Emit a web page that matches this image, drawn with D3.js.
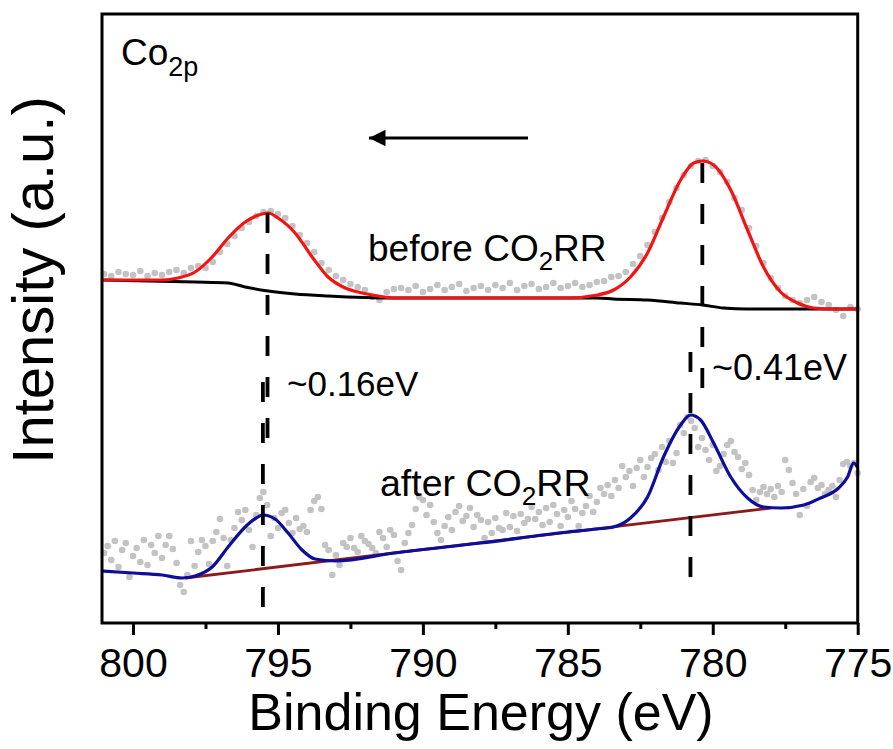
<!DOCTYPE html>
<html>
<head>
<meta charset="utf-8">
<script src="https://cdn.jsdelivr.net/npm/d3@7"></script>
<style>
  body { margin: 0; background: #fff; }
  svg { display: block; font-family: "Liberation Sans", Arial, Helvetica, sans-serif; }
</style>
</head>
<body>
<svg id="chart" width="893" height="749"></svg>
<script>
// ---- Axis ticks ----
const xTicks = [800, 795, 790, 785, 780, 775];
const xMinorTicks = [797.5, 792.5, 787.5, 782.5, 777.5];

// ---- Measured spectra (binding energy grid: start + step) ----
const beforeStart = 801.0, beforeStep = 0.25;
const beforeCounts = [
  349, 347, 351, 349, 348, 352, 347, 350, 348, 351, 353, 350, 355, 357, 355, 361,
  371, 379, 387, 395, 401, 407, 411, 412, 409, 405, 397, 388, 380, 371, 360, 353,
  347, 343, 339, 336, 333, 326, 323, 331, 334, 335, 333, 337, 331, 334, 338, 333,
  336, 339, 332, 335, 337, 333, 338, 335, 340, 333, 337, 339, 334, 336, 340, 335,
  337, 340, 336, 338, 341, 342, 346, 347, 351, 359, 367, 378, 391, 405, 421, 435,
  448, 457, 462, 463, 457, 451, 441, 425, 413, 395, 377, 360, 345, 335, 327, 323,
  320, 323, 326, 321, 318, 313, 307, 316, 314
];

const afterStart = 801.0, afterStep = 0.125;
const afterCounts = [
  70, 77, 63, 82, 56, 73, 80, 46, 67, 75, 61, 83, 58, 78, 70, 87,
  65, 78, 87, 74, 60, 38, 31, 48, 82, 57, 71, 83, 77, 59, 82, 91,
  104, 85, 57, 83, 95, 111, 103, 113, 93, 76, 108, 125, 131, 118, 87, 105,
  95, 110, 113, 100, 90, 105, 94, 97, 91, 113, 122, 126, 114, 78, 73, 48,
  68, 58, 80, 76, 85, 75, 71, 87, 82, 79, 75, 70, 91, 85, 76, 93,
  88, 62, 53, 80, 90, 98, 114, 126, 123, 108, 118, 101, 90, 83, 97, 106,
  93, 111, 117, 102, 107, 115, 96, 108, 103, 85, 101, 90, 105, 95, 93, 110,
  96, 107, 92, 109, 100, 104, 116, 104, 111, 98, 115, 101, 118, 109, 97, 113,
  106, 122, 114, 97, 110, 117, 127, 111, 121, 135, 129, 138, 127, 143, 135, 157,
  146, 152, 137, 155, 163, 146, 156, 165, 169, 153, 176, 161, 182, 160, 170, 198,
  190, 206, 202, 195, 176, 185, 173, 163, 178, 152, 157, 169, 178, 182, 171, 166,
  154, 160, 148, 133, 123, 131, 136, 129, 134, 126, 137, 131, 163, 153, 140, 129,
  108, 134, 117, 141, 145, 135, 138, 129, 133, 137, 126, 143, 159, 161, 157, 160,
  150
];

// ---- Fitted envelopes and backgrounds (energy, intensity) ----
const beforeFitE = [801.07, 800.0, 799.0, 798.45, 797.86, 797.27, 796.72, 796.13, 795.55, 795.34,
  795.0, 794.41, 793.82, 793.27, 792.68, 792.09, 791.54, 790.95, 790.0, 785.0,
  783.98, 783.42, 782.84, 782.25, 781.70, 781.11, 780.66, 780.35, 779.97, 779.38,
  778.80, 778.25, 777.66, 777.07, 776.52, 775.93, 775.0];
const beforeFitI = [343, 343, 343, 345, 351, 366, 385, 401, 409, 410,
  405, 390, 366, 346, 335, 330, 327, 325, 325, 325,
  328, 333, 346, 370, 406, 443, 460, 462, 458, 433,
  393, 356, 331, 320, 315, 314, 314];

const beforeBgE = [801.07, 797.86, 796.72, 796.13, 795.34, 794.41, 793.27, 790.95, 783.98, 783.42,
  782.25, 781.11, 780.35, 779.63, 778.80, 775.0];
const beforeBgI = [343, 341, 340, 336, 332, 329, 327, 325, 325, 324,
  323, 320, 318, 315, 314, 314];

const afterFitE = [801.07, 800.0, 799.0, 798.3, 797.86, 797.27, 796.72, 796.13, 795.75, 795.52,
  795.1, 794.65, 794.17, 793.72, 793.0, 791.0, 788.0, 785.0, 784.0, 783.42,
  782.84, 782.25, 781.70, 781.11, 780.77, 780.42, 779.97, 779.38, 778.80, 778.25,
  777.66, 776.86, 776.28, 775.66, 775.35, 775.14, 775.0];
const afterFitI = [52, 50, 48, 45, 47, 56, 76, 96, 105, 108,
  104, 90, 73, 64, 62, 70, 80, 91, 94, 96,
  105, 126, 166, 198, 208, 203, 180, 146, 125, 116,
  115, 118, 125, 135, 146, 160, 155];

const afterBgE = [798.2, 778.0];
const afterBgI = [45, 115];

// ---- Peak-position markers: energy, top and bottom intensity ----
const beforePeaks = [795.36, 780.36];
const beforePeakTop = [410, 460];
const beforePeakBottom = [180, 230];
const afterPeaks = [795.52, 780.77];
const afterPeakTop = [241, 271];
const afterPeakBottom = [11, 40];

// ---- Layout ----
const svg = d3.select("#chart");
const margin = { left: 102, top: 14 };
const W = 755.7, H = 609;
const g = svg.append("g").attr("transform", `translate(${margin.left},${margin.top})`);

const x = d3.scaleLinear().domain([801.07, 775]).range([0, W]);
const y = d3.scaleLinear().domain([0, 609]).range([H, 0]);

const line = d3.line().x(d => x(d[0])).y(d => y(d[1])).curve(d3.curveMonotoneX);
const zip = (a, b) => a.map((v, i) => [v, b[i]]);

// measured points
const beforePts = beforeCounts.map((c, i) => [beforeStart - i * beforeStep, c]);
const afterPts = afterCounts.map((c, i) => [afterStart - i * afterStep, c]);

const dotColor = "#c3c3c3";
g.append("g").selectAll("circle").data(beforePts.concat(afterPts)).join("circle")
  .attr("cx", d => x(d[0])).attr("cy", d => y(d[1])).attr("r", 3.3)
  .attr("fill", dotColor);

// before CO2RR: Shirley background then envelope
g.append("path").datum(zip(beforeBgE, beforeBgI)).attr("d", line)
  .attr("fill", "none").attr("stroke", "#000").attr("stroke-width", 3);
g.append("path").datum(zip(beforeFitE, beforeFitI)).attr("d", line)
  .attr("fill", "none").attr("stroke", "#f41212").attr("stroke-width", 3.2);

// after CO2RR: linear background then envelope
g.append("path").datum(zip(afterBgE, afterBgI)).attr("d", d3.line().x(d => x(d[0])).y(d => y(d[1])))
  .attr("fill", "none").attr("stroke", "#8c1a1a").attr("stroke-width", 2.8);
g.append("path").datum(zip(afterFitE, afterFitI)).attr("d", line)
  .attr("fill", "none").attr("stroke", "#0e0e9a").attr("stroke-width", 3.2);

// dashed peak-position markers
const markers = beforePeaks.map((e, i) => ({ e, t: beforePeakTop[i], b: beforePeakBottom[i] }))
  .concat(afterPeaks.map((e, i) => ({ e, t: afterPeakTop[i], b: afterPeakBottom[i] })));
g.append("g").selectAll("line").data(markers).join("line")
  .attr("x1", d => x(d.e)).attr("x2", d => x(d.e))
  .attr("y1", d => y(d.t)).attr("y2", d => y(d.b))
  .attr("stroke", "#000").attr("stroke-width", 3.8)
  .attr("stroke-dasharray", "20,21");

// frame
g.append("rect").attr("x", 0).attr("y", 0).attr("width", W).attr("height", H)
  .attr("fill", "none").attr("stroke", "#000").attr("stroke-width", 3);

// bottom axis: major and minor ticks
const axis = d3.axisBottom(x).tickValues(xTicks).tickSize(12).tickPadding(13).tickFormat(d3.format("d"));
const ax = g.append("g").attr("transform", `translate(0,${H})`).call(axis);
ax.select(".domain").remove();
ax.selectAll(".tick line").attr("stroke", "#000").attr("stroke-width", 3);
ax.selectAll(".tick text").attr("font-size", 41).attr("fill", "#000")
  .attr("font-family", "'Liberation Sans', Arial, sans-serif");
const axMinor = d3.axisBottom(x).tickValues(xMinorTicks).tickSize(6).tickFormat("");
const am = g.append("g").attr("transform", `translate(0,${H})`).call(axMinor);
am.select(".domain").remove();
am.selectAll(".tick line").attr("stroke", "#000").attr("stroke-width", 3);

// axis titles
svg.append("text").attr("x", 481).attr("y", 730).attr("text-anchor", "middle")
  .attr("font-size", 52).text("Binding Energy (eV)");
svg.append("text").attr("transform", "translate(53,280) rotate(-90)").attr("text-anchor", "middle")
  .attr("font-size", 58).text("Intensity (a.u.)");

// panel label
const co = svg.append("text").attr("x", 121).attr("y", 65).attr("font-size", 37);
co.append("tspan").text("Co");
co.append("tspan").attr("font-size", 27).attr("dy", 11).text("2p");

// direction arrow
svg.append("defs").append("marker").attr("id", "head")
  .attr("viewBox", "0 0 10 10").attr("refX", 10).attr("refY", 5)
  .attr("markerWidth", 8.5).attr("markerHeight", 5.5).attr("markerUnits", "strokeWidth")
  .attr("orient", "auto")
  .append("path").attr("d", "M0,0 L10,5 L0,10 Z").attr("fill", "#000");
svg.append("line").attr("x1", 528).attr("y1", 138).attr("x2", 369).attr("y2", 138)
  .attr("stroke", "#000").attr("stroke-width", 3).attr("marker-end", "url(#head)");

// sample labels with subscript
function co2Label(px, py, prefix, size) {
  const t = svg.append("text").attr("x", px).attr("y", py).attr("font-size", size);
  t.append("tspan").text(prefix + "CO");
  t.append("tspan").attr("font-size", size * 0.7).attr("dy", 9).text("2");
  t.append("tspan").attr("dy", -9).text("RR");
}
co2Label(368, 261, "before ", 37);
co2Label(380, 496, "after ", 37.5);

// shift annotations
svg.append("text").attr("x", 287).attr("y", 396).attr("font-size", 35).text("~0.16eV");
svg.append("text").attr("x", 712).attr("y", 380).attr("font-size", 36).text("~0.41eV");
</script>
</body>
</html>
